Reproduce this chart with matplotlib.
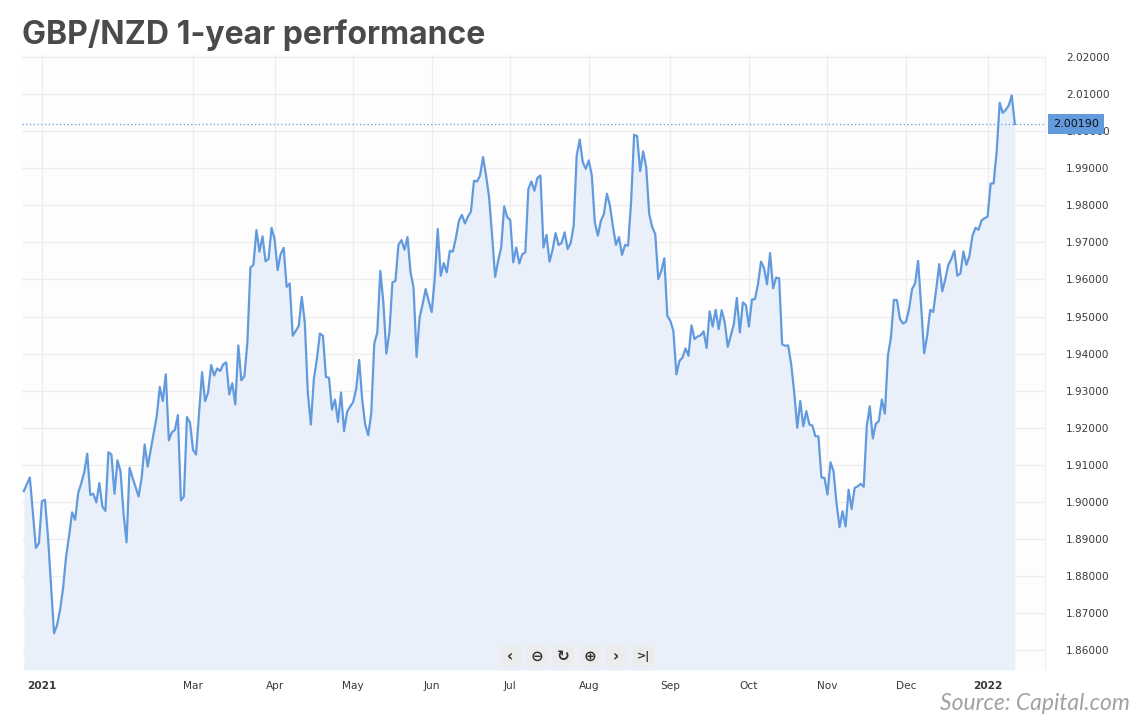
import numpy as np
import pandas as pd
import matplotlib
matplotlib.use("Agg")
from matplotlib import pyplot as plt
from matplotlib.patches import FancyBboxPatch
from matplotlib.transforms import blended_transform_factory

# GBP/NZD daily closes (Sun-Fri trading days)
start_date = "2020-12-25"
rates = [
    1.9029, 1.9048, 1.9066, 1.8970, 1.8876, 1.8889, 1.9002, 1.9006, 1.8906, 1.8777,
    1.8646, 1.8668, 1.8709, 1.8768, 1.8853, 1.8910, 1.8972, 1.8952, 1.9024, 1.9050,
    1.9080, 1.9130, 1.9019, 1.9022, 1.8999, 1.9051, 1.8988, 1.8976, 1.9134, 1.9128,
    1.9022, 1.9112, 1.9083, 1.8970, 1.8891, 1.9092, 1.9065, 1.9040, 1.9015, 1.9065,
    1.9155, 1.9095, 1.9140, 1.9186, 1.9231, 1.9310, 1.9272, 1.9344, 1.9166, 1.9188,
    1.9194, 1.9234, 1.9004, 1.9015, 1.9229, 1.9214, 1.9141, 1.9128, 1.9240, 1.9350,
    1.9272, 1.9295, 1.9369, 1.9341, 1.9360, 1.9353, 1.9371, 1.9376, 1.9290, 1.9320,
    1.9263, 1.9422, 1.9328, 1.9339, 1.9430, 1.9632, 1.9639, 1.9733, 1.9675, 1.9716,
    1.9649, 1.9655, 1.9739, 1.9709, 1.9625, 1.9668, 1.9685, 1.9580, 1.9589, 1.9448,
    1.9461, 1.9475, 1.9553, 1.9484, 1.9295, 1.9209, 1.9331, 1.9385, 1.9454, 1.9448,
    1.9337, 1.9335, 1.9249, 1.9276, 1.9216, 1.9295, 1.9191, 1.9243, 1.9257, 1.9269,
    1.9304, 1.9383, 1.9276, 1.9209, 1.9180, 1.9240, 1.9427, 1.9457, 1.9623, 1.9539,
    1.9400, 1.9457, 1.9592, 1.9596, 1.9693, 1.9706, 1.9680, 1.9714, 1.9619, 1.9578,
    1.9391, 1.9497, 1.9533, 1.9574, 1.9542, 1.9512, 1.9601, 1.9736, 1.9610, 1.9644,
    1.9619, 1.9677, 1.9675, 1.9711, 1.9758, 1.9774, 1.9751, 1.9769, 1.9783, 1.9866,
    1.9864, 1.9880, 1.9930, 1.9880, 1.9822, 1.9718, 1.9607, 1.9650, 1.9686, 1.9797,
    1.9768, 1.9760, 1.9646, 1.9686, 1.9643, 1.9668, 1.9673, 1.9844, 1.9864, 1.9839,
    1.9874, 1.9880, 1.9686, 1.9720, 1.9648, 1.9679, 1.9725, 1.9693, 1.9698, 1.9727,
    1.9682, 1.9698, 1.9745, 1.9934, 1.9977, 1.9916, 1.9898, 1.9921, 1.9880, 1.9754,
    1.9718, 1.9758, 1.9776, 1.9831, 1.9799, 1.9742, 1.9693, 1.9714, 1.9666, 1.9693,
    1.9691, 1.9808, 1.9990, 1.9986, 1.9892, 1.9945, 1.9903, 1.9776, 1.9741, 1.9722,
    1.9601, 1.9623, 1.9657, 1.9502, 1.9488, 1.9461, 1.9344, 1.9380, 1.9389, 1.9414,
    1.9394, 1.9476, 1.9439, 1.9446, 1.9449, 1.9460, 1.9415, 1.9514, 1.9473, 1.9518,
    1.9466, 1.9517, 1.9484, 1.9418, 1.9448, 1.9479, 1.9550, 1.9457, 1.9538, 1.9531,
    1.9473, 1.9546, 1.9547, 1.9587, 1.9648, 1.9631, 1.9587, 1.9671, 1.9576, 1.9605,
    1.9603, 1.9425, 1.9421, 1.9422, 1.9371, 1.9295, 1.9200, 1.9272, 1.9204, 1.9245,
    1.9209, 1.9206, 1.9177, 1.9177, 1.9066, 1.9065, 1.9020, 1.9107, 1.9083, 1.8997,
    1.8932, 1.8975, 1.8934, 1.9033, 1.8981, 1.9038, 1.9042, 1.9049, 1.9041, 1.9204,
    1.9258, 1.9171, 1.9211, 1.9218, 1.9276, 1.9238, 1.9394, 1.9443, 1.9545, 1.9544,
    1.9493, 1.9481, 1.9486, 1.9520, 1.9574, 1.9589, 1.9650, 1.9529, 1.9401, 1.9448,
    1.9518, 1.9512, 1.9574, 1.9641, 1.9568, 1.9601, 1.9639, 1.9655, 1.9677, 1.9610,
    1.9616, 1.9675, 1.9639, 1.9664, 1.9718, 1.9739, 1.9734, 1.9759, 1.9765, 1.9769,
    1.9858, 1.9859, 1.9945, 2.0076, 2.0049, 2.0057, 2.0069, 2.0096, 2.0019,
]
last_price = 2.00190

tick_dates = ["2021-01-01", "2021-03-01", "2021-04-01", "2021-05-01", "2021-06-01",
              "2021-07-01", "2021-08-01", "2021-09-01", "2021-10-01", "2021-11-01",
              "2021-12-01", "2022-01-01"]
tick_labels = ["2021", "Mar", "Apr", "May", "Jun", "Jul", "Aug", "Sep", "Oct", "Nov",
               "Dec", "2022"]
y_ticks = np.round(np.arange(1.86, 2.0201, 0.01), 2)

WEEKMASK = "1111101"  # trading Sunday to Friday

dates = pd.bdate_range(start_date, periods=len(rates), freq="C",
                       weekmask="Sun Mon Tue Wed Thu Fri")
x = np.busday_count("2021-01-01", dates.values.astype("datetime64[D]"), weekmask=WEEKMASK)
xt = np.busday_count("2021-01-01", np.array(tick_dates, dtype="datetime64[D]"), weekmask=WEEKMASK)

W, H = 1140, 720
fig = plt.figure(figsize=(W / 100, H / 100), dpi=100)
fig.patch.set_facecolor("white")
ax = fig.add_axes([22 / W, 1 - 670 / H, (1045 - 22) / W, (670 - 55) / H])
ax.set_facecolor("#fdfdfd")

ymin, ymax = 1.8547, 2.0205
ax.fill_between(x, rates, ymin, color="#eaf0f9", lw=0, zorder=1)
ax.plot(x, rates, color="#629ade", lw=1.6, zorder=3, solid_joinstyle="round")
ax.axhline(last_price, color="#629ade", lw=0.9, ls=(0, (1, 2)), zorder=2)

ax.set_xlim(x[0] - 0.6, 332)
ax.set_ylim(ymin, ymax)
ax.set_xticks(xt)
ax.set_xticklabels(tick_labels)
for lab in ax.get_xticklabels():
    if lab.get_text() in ("2021", "2022"):
        lab.set_fontweight("bold")
ax.yaxis.tick_right()
ax.set_yticks(y_ticks)
ax.set_yticklabels([f"{v:.5f}" for v in y_ticks])
ax.tick_params(axis="both", length=0, labelsize=7.6, colors="#3a3a3a")
ax.tick_params(axis="x", pad=8)
ax.tick_params(axis="y", pad=15)
ax.grid(True, color="#ededed", lw=0.9, zorder=0)
ax.set_axisbelow(True)
for s in ax.spines.values():
    s.set_visible(False)
ax.spines["right"].set_visible(True)
ax.spines["right"].set_color("#eeeeee")

# current price tag on the price scale
tr = blended_transform_factory(ax.transAxes, ax.transData)
ax.text(1.0 + 8 / (1045 - 22), last_price, f"{last_price:.5f}", transform=tr,
        ha="left", va="center", fontsize=8, color="#111111", zorder=6, clip_on=False,
        bbox=dict(boxstyle="square,pad=0.45", fc="#629ade", ec="none"))

# chart navigation buttons
btn_x = [510, 537, 563, 590, 616, 643]
btn_txt = ["\u2039", "\u2296", "\u21bb", "\u2295", "\u203a", ">|"]
for bx, bt in zip(btn_x, btn_txt):
    fig.add_artist(FancyBboxPatch(((bx - 11) / 100, (H - 667) / 100), 0.22, 0.21,
                                  boxstyle="round,pad=0,rounding_size=0.03",
                                  transform=fig.dpi_scale_trans, fc="#ececec", ec="none"))
    fig.text(bx / W, 1 - 656.5 / H, bt, ha="center", va="center",
             fontsize=11 if bt != ">|" else 8, color="#333333", fontweight="bold")

fig.text(22 / W, 1 - 35 / H, "GBP/NZD 1-year performance", ha="left", va="center",
         fontsize=23, fontweight="bold", family="Inter", color="#4a4a4a")
fig.text(1130 / W, 1 - 704 / H, "Source: Capital.com", ha="right", va="center",
         fontsize=16.5, fontstyle="italic", family="Lato", color="#a2a2a2")

fig.savefig("out.png", dpi=100, facecolor="white")
